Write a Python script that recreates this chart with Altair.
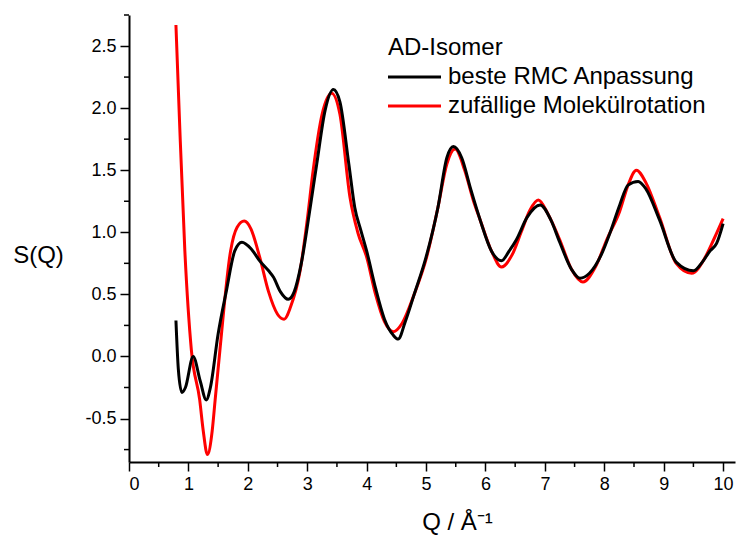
import altair as alt
import pandas as pd

# Red curve: random molecular rotation
q_red = [0.79, 0.85, 0.94, 1.05, 1.19, 1.25, 1.32, 1.40, 1.45, 1.53, 1.71, 1.82, 1.94, 2.05, 2.2, 2.35, 2.5,
         2.61, 2.72, 2.88, 3.0, 3.10, 3.25, 3.41, 3.55, 3.72, 3.85, 4.0, 4.15, 4.3, 4.45, 4.6, 4.8, 5.01,
         5.2, 5.35, 5.49, 5.65, 5.8, 5.91, 6.1, 6.27, 6.45, 6.6, 6.75, 6.89, 7.05, 7.25, 7.45, 7.64, 7.85,
         8.05, 8.26, 8.4, 8.54, 8.7, 8.93, 9.21, 9.47, 9.7, 9.85, 10.0]
s_red = [2.67, 1.9, 0.85, 0.05, -0.35, -0.6, -0.79, -0.6, -0.35, 0.05, 0.85, 1.04, 1.09, 1.03, 0.8, 0.52, 0.34,
         0.30, 0.40, 0.69, 1.1, 1.5, 1.95, 2.12, 1.95, 1.28, 1.0, 0.80, 0.5, 0.28, 0.20, 0.27, 0.5, 0.80,
         1.2, 1.55, 1.67, 1.5, 1.25, 1.10, 0.85, 0.72, 0.82, 1.0, 1.18, 1.26, 1.15, 0.94, 0.7, 0.60, 0.72,
         0.95, 1.17, 1.38, 1.50, 1.40, 1.12, 0.75, 0.67, 0.8, 0.95, 1.11]

# Black curve: best RMC fit
q_black = [0.79, 0.83, 0.89, 0.95, 1.08, 1.2, 1.30, 1.37, 1.50, 1.64, 1.78, 1.90, 2.05, 2.20, 2.35, 2.43, 2.55,
           2.68, 2.78, 2.9, 3.05, 3.16, 3.3, 3.44, 3.55, 3.7, 3.80, 3.9, 4.0, 4.15, 4.3, 4.45, 4.53, 4.65,
           4.8, 5.0, 5.2, 5.35, 5.46, 5.6, 5.75, 5.91, 6.1, 6.27, 6.4, 6.52, 6.7, 6.92, 7.1, 7.25, 7.45,
           7.59, 7.75, 7.95, 8.1, 8.26, 8.4, 8.57, 8.7, 8.93, 9.21, 9.5, 9.65, 9.78, 9.89, 10.0]
s_black = [0.29, -0.1, -0.29, -0.25, 0.0, -0.2, -0.35, -0.25, 0.18, 0.53, 0.85, 0.92, 0.87, 0.77, 0.69, 0.64, 0.52,
           0.46, 0.52, 0.75, 1.2, 1.55, 1.98, 2.15, 2.05, 1.55, 1.2, 1.02, 0.85, 0.55, 0.30, 0.17, 0.14, 0.28,
           0.5, 0.80, 1.2, 1.6, 1.69, 1.6, 1.35, 1.10, 0.85, 0.77, 0.85, 0.94, 1.12, 1.22, 1.1, 0.92, 0.7,
           0.63, 0.67, 0.82, 1.0, 1.22, 1.38, 1.41, 1.35, 1.10, 0.76, 0.69, 0.76, 0.85, 0.91, 1.07]

legend_title = ["AD-Isomer"]
series_names = ["beste RMC Anpassung", "zufällige Molekülrotation"]
series_colors = ["#000000", "#ff0000"]

x_major = [0, 1, 2, 3, 4, 5, 6, 7, 8, 9, 10]
x_minor = [0.5, 1.5, 2.5, 3.5, 4.5, 5.5, 6.5, 7.5, 8.5, 9.5]
y_major = [-0.5, 0.0, 0.5, 1.0, 1.5, 2.0, 2.5]
y_minor = [-0.75, -0.25, 0.25, 0.75, 1.25, 1.75, 2.25, 2.75]

df_black = pd.DataFrame({"Q": q_black, "S": s_black, "Serie": series_names[0]})
df_red = pd.DataFrame({"Q": q_red, "S": s_red, "Serie": series_names[1]})
df_xminor = pd.DataFrame({"Q": x_minor})
df_yminor = pd.DataFrame({"S": y_minor})
df_legend = pd.DataFrame({"Serie": series_names})
df_legend_title = pd.DataFrame({"t": legend_title})

FONT = "Liberation Sans"

x_scale = alt.Scale(domain=[0, 10.2], nice=False, zero=False)
y_scale = alt.Scale(domain=[-0.85, 2.75], nice=False, zero=False)
color_scale = alt.Scale(domain=series_names, range=series_colors)

x_enc = alt.X(
    "Q:Q",
    scale=x_scale,
    axis=alt.Axis(
        title="Q / Å⁻¹",
        values=x_major,
        format="d",
        tickSize=9,
        grid=False,
        titleX=328,
        titleY=60,
        titleBaseline="middle",
        titleAlign="center",
    ),
)
y_enc = alt.Y(
    "S:Q",
    scale=y_scale,
    axis=alt.Axis(
        title="S(Q)",
        values=y_major,
        labelExpr="replace(format(datum.value, '.1f'), '−', '-')",
        tickSize=9,
        grid=False,
        titleAngle=0,
        titleX=-91,
        titleY=240,
        titleAlign="center",
        titleBaseline="middle",
    ),
)
color_enc = alt.Color("Serie:N", scale=color_scale, legend=None)

red = alt.Chart(df_red).mark_line(strokeWidth=3, interpolate="monotone").encode(x=x_enc, y=y_enc, color=color_enc)
black = alt.Chart(df_black).mark_line(strokeWidth=3, interpolate="monotone").encode(x=x_enc, y=y_enc, color=color_enc)

xminor = alt.Chart(df_xminor).mark_rule(color="black", strokeWidth=1.5).encode(
    x=alt.X("Q:Q", scale=x_scale), y=alt.value(447), y2=alt.value(452)
)
yminor = alt.Chart(df_yminor).mark_rule(color="black", strokeWidth=1.5).encode(
    y=alt.Y("S:Q", scale=y_scale), x=alt.value(-5), x2=alt.value(0)
)

data_layer = alt.layer(red, black, xminor, yminor)

# legend drawn as its own layer, entries placed by a point scale
leg_y = alt.Y("Serie:N", scale=alt.Scale(type="point", padding=0, domain=series_names, range=[62, 91]), axis=None)
leg_lines = alt.Chart(df_legend).mark_rule(strokeWidth=3).encode(
    y=leg_y, x=alt.value(259), x2=alt.value(312), color=color_enc
)
leg_text = alt.Chart(df_legend).mark_text(
    align="left", baseline="middle", font=FONT, fontSize=24, color="black"
).encode(y=leg_y, x=alt.value(319), text="Serie:N")
leg_title = alt.Chart(df_legend_title).mark_text(
    align="left", baseline="middle", font=FONT, fontSize=24, color="black"
).encode(x=alt.value(259), y=alt.value(33), text="t:N")

legend_layer = alt.layer(leg_lines, leg_text, leg_title)

chart = (
    alt.layer(data_layer, legend_layer)
    .resolve_scale(y="independent")
    .properties(
        width=606,
        height=447,
        autosize=alt.AutoSizeParams(type="none"),
        padding={"left": 129, "top": 15, "right": 1, "bottom": 74},
    )
    .configure_view(stroke=None)
    .configure_axis(
        labelFont=FONT,
        titleFont=FONT,
        labelFontSize=18,
        titleFontSize=24,
        titleFontWeight="normal",
        labelColor="black",
        titleColor="black",
        domainColor="black",
        tickColor="black",
        domainWidth=2,
        tickWidth=1.5,
        labelPadding=4,
    )
)

chart.save("out.html", embed_options={"renderer": "svg", "actions": False})
